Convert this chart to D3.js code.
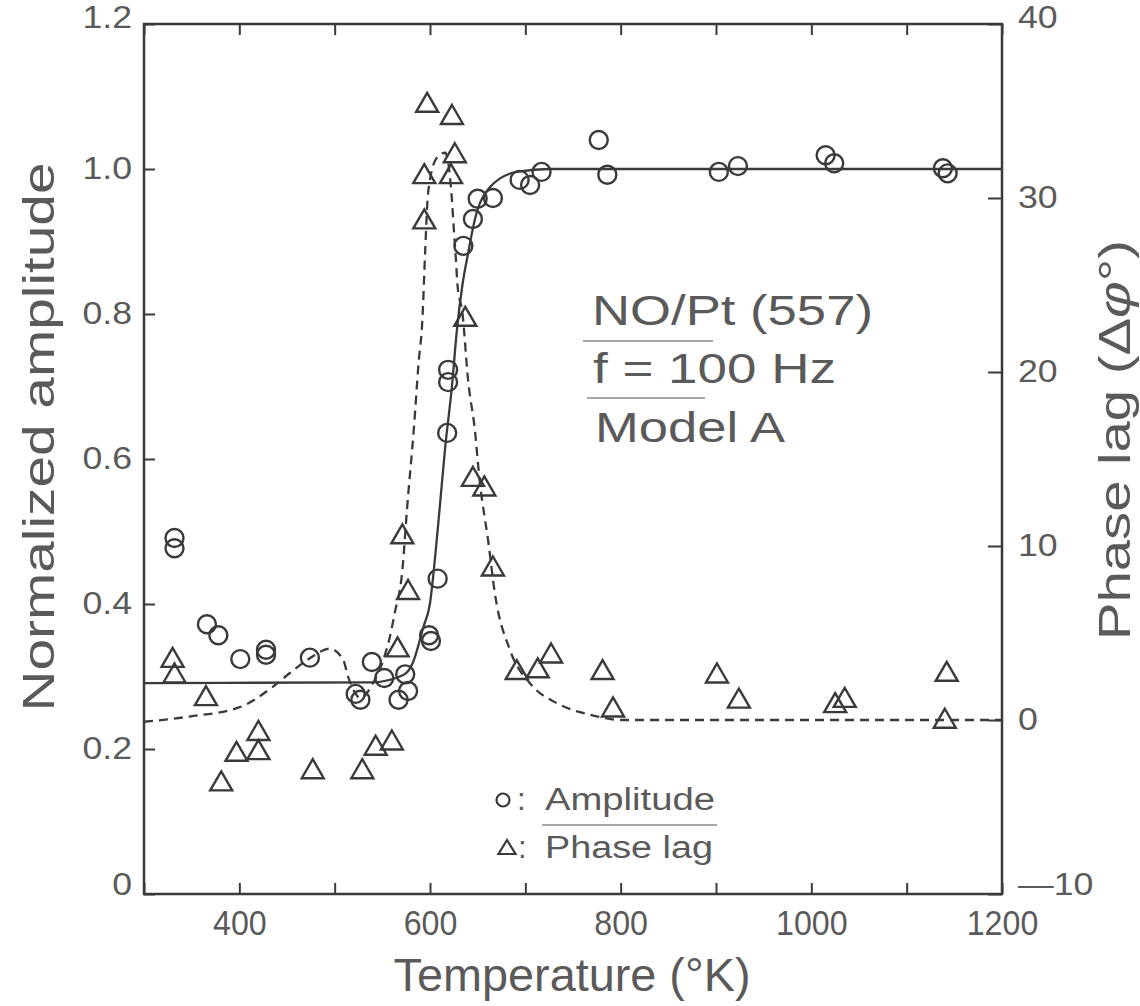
<!DOCTYPE html>
<html>
<head>
<meta charset="utf-8">
<script src="https://cdn.jsdelivr.net/npm/d3@7"></script>
<style>
  body { margin: 0; background: #fff; }
  svg { display: block; font-family: "Liberation Sans", Arial, sans-serif; }
</style>
</head>
<body>
<svg id="chart" width="1140" height="1006"></svg>
<script>
// measured amplitude (circles)
const ampTemp  = [332,332,366,378,401,428,428,474,522,527,539,552,567,574,577,599,601,608,618,619,619,635,645,650,666,694,705,717,777,786,903,923,1015,1024,1138,1143]
const ampValue = [0.491,0.477,0.372,0.357,0.324,0.337,0.330,0.326,0.276,0.268,0.320,0.298,0.268,0.303,0.280,0.357,0.349,0.435,0.636,0.706,0.723,0.894,0.931,0.959,0.960,0.985,0.978,0.996,1.040,0.992,0.996,1.004,1.019,1.008,1.001,0.994]

// measured phase lag (triangles), degrees
const phaseTemp  = [330,332,365,381,397,420,420,477,529,543,560,566,571,577,594,594,597,622,623,626,637,645,657,666,691,713,727,781,792,901,924,1025,1035,1140,1142]
const phaseValue = [3.6,2.7,1.4,-3.5,-1.8,-1.7,-0.6,-2.8,-2.8,-1.45,-1.15,4.2,10.7,7.5,28.8,31.4,35.5,31.4,34.8,32.6,23.2,14.0,13.45,8.85,2.9,3.0,3.85,2.9,0.75,2.7,1.26,1.0,1.3,0.1,2.8]

// model A curves
const ampFitTemp  = [300,540,572,582,593,600,605,610,616,623,628,634,640,647,663,691,726,1200]
const ampFitValue = [0.291,0.292,0.302,0.319,0.368,0.401,0.460,0.530,0.617,0.700,0.775,0.840,0.884,0.930,0.975,0.996,1.0,1.0]

const phaseFitTemp  = [300,348,401,435,453,474,495,509,514,521,527,539,551,558,563,571,576,583,588,592,595,598,607,616,623,625,627,629,634,640,647,652,661,668,684,705,733,768,802,1200]
const phaseFitValue = [-0.1,0.2,0.75,1.9,2.7,3.55,4.1,3.45,2.5,1.6,1.25,2.0,3.45,4.8,6.15,8.6,12.2,16.7,20.5,23.0,27.0,30.3,32.3,32.6,29.9,28.2,26.6,24.9,23.4,19.5,16.7,13.8,10.3,7.3,4.0,2.1,0.97,0.3,0.0,0.0]

// ticks
const xTicks     = [300,400,500,600,700,800,900,1000,1100,1200]
const xLabels    = [400,600,800,1000,1200]
const ampTicks   = [0,0.2,0.4,0.6,0.8,1.0,1.2]
const phaseTicks = [-10,0,10,20,30,40]

const INK = "#3a3a3a", TEXT = "#5a5a5a"
const margin = { top: 24, right: 138, bottom: 112, left: 144 }
const W = 1140, H = 1006
const innerW = W - margin.left - margin.right
const innerH = H - margin.top - margin.bottom

const svg = d3.select("#chart")
svg.append("rect").attr("width", W).attr("height", H).attr("fill", "#fff")

const x  = d3.scaleLinear().domain([300, 1200]).range([margin.left, margin.left + innerW])
const yA = d3.scaleLinear().domain([0, 1.2]).range([margin.top + innerH, margin.top])
const yP = d3.scaleLinear().domain([-10, 40]).range([margin.top + innerH, margin.top])

// widen glyphs, the original lettering is an extended face
function stretch(sel, k) {
  sel.each(function() {
    const w = this.getComputedTextLength()
    d3.select(this).attr("textLength", w * k).attr("lengthAdjust", "spacingAndGlyphs")
  })
}

function styleAxis(g, size) {
  g.select(".domain").remove()
  g.selectAll(".tick line").attr("stroke", INK).attr("stroke-width", 2)
  g.selectAll(".tick text").attr("fill", TEXT).attr("font-size", size)
}

// bottom axis
const gx = svg.append("g")
  .attr("transform", `translate(0,${margin.top + innerH})`)
  .call(d3.axisBottom(x).tickValues(xTicks).tickSizeInner(-11).tickSizeOuter(0).tickPadding(16)
    .tickFormat(d => xLabels.includes(d) ? d : ""))
styleAxis(gx, 35)
stretch(gx.selectAll(".tick text"), 0.92)

// top axis
const gt = svg.append("g")
  .attr("transform", `translate(0,${margin.top})`)
  .call(d3.axisTop(x).tickValues(xTicks).tickSizeInner(-11).tickSizeOuter(0).tickFormat(""))
styleAxis(gt, 10)

// left axis
const gl = svg.append("g")
  .attr("transform", `translate(${margin.left},0)`)
  .call(d3.axisLeft(yA).tickValues(ampTicks).tickSizeInner(-11).tickSizeOuter(0).tickPadding(12)
    .tickFormat(d => d === 0 ? "0" : d3.format(".1f")(d)))
styleAxis(gl, 31)
stretch(gl.selectAll(".tick text"), 1.15)

// right axis
const gr = svg.append("g")
  .attr("transform", `translate(${margin.left + innerW},0)`)
  .call(d3.axisRight(yP).tickValues(phaseTicks).tickSizeInner(-14).tickSizeOuter(0).tickPadding(16)
    .tickFormat(d => d < 0 ? "\u2014" + Math.abs(d) : d))
styleAxis(gr, 31)
stretch(gr.selectAll(".tick text"), 1.15)

// end labels sit a little inside the frame in the original
gl.selectAll(".tick text").filter(d => d === 0).attr("y", -9)
gl.selectAll(".tick text").filter(d => d === 1.2).attr("y", -6)
gr.selectAll(".tick text").filter(d => d === -10).attr("y", -9)
gr.selectAll(".tick text").filter(d => d === 40).attr("y", -6)

// frame
svg.append("rect")
  .attr("x", margin.left).attr("y", margin.top)
  .attr("width", innerW).attr("height", innerH)
  .attr("fill", "none").attr("stroke", INK).attr("stroke-width", 2.5)

// axis titles
svg.append("text")
  .attr("transform", `translate(${margin.left + innerW / 2 - 1},991)`)
  .attr("text-anchor", "middle").attr("font-size", 46).attr("fill", TEXT)
  .attr("textLength", 357).attr("lengthAdjust", "spacingAndGlyphs")
  .text("Temperature (°K)")

svg.append("text")
  .attr("transform", "translate(54,437) rotate(-90)")
  .attr("text-anchor", "middle").attr("font-size", 45).attr("fill", TEXT)
  .attr("textLength", 549).attr("lengthAdjust", "spacingAndGlyphs")
  .text("Normalized amplitude")

const pl = svg.append("text")
  .attr("transform", "translate(1130,440) rotate(-90)")
  .attr("text-anchor", "middle").attr("font-size", 45).attr("fill", TEXT)
  .attr("textLength", 400).attr("lengthAdjust", "spacingAndGlyphs")
pl.append("tspan").text("Phase lag (\u0394")
pl.append("tspan").attr("font-style", "italic").text("\u03C6")
pl.append("tspan").text("\u00B0)")

// plot contents
const clip = svg.append("clipPath").attr("id", "plot-clip")
clip.append("rect").attr("x", margin.left).attr("y", margin.top).attr("width", innerW).attr("height", innerH)
const plot = svg.append("g").attr("clip-path", "url(#plot-clip)")

const ampFit = d3.zip(ampFitTemp, ampFitValue)
const phaseFit = d3.zip(phaseFitTemp, phaseFitValue)

plot.append("path")
  .datum(ampFit)
  .attr("d", d3.line().x(d => x(d[0])).y(d => yA(d[1])).curve(d3.curveMonotoneX))
  .attr("fill", "none").attr("stroke", INK).attr("stroke-width", 2.3)

plot.append("path")
  .datum(phaseFit)
  .attr("d", d3.line().x(d => x(d[0])).y(d => yP(d[1])).curve(d3.curveMonotoneX))
  .attr("fill", "none").attr("stroke", INK).attr("stroke-width", 2.3)
  .attr("stroke-dasharray", "9,6")

const tri = (w, h) => `M0,${-h / 2}L${w / 2},${h / 2}L${-w / 2},${h / 2}Z`

plot.selectAll(".amp-pt")
  .data(d3.zip(ampTemp, ampValue))
  .join("circle")
  .attr("class", "amp-pt")
  .attr("cx", d => x(d[0])).attr("cy", d => yA(d[1]))
  .attr("r", 9)
  .attr("fill", "none").attr("stroke", INK).attr("stroke-width", 2.4)

plot.selectAll(".phase-pt")
  .data(d3.zip(phaseTemp, phaseValue))
  .join("path")
  .attr("class", "phase-pt")
  .attr("transform", d => `translate(${x(d[0])},${yP(d[1])})`)
  .attr("d", tri(22, 19))
  .attr("fill", "none").attr("stroke", INK).attr("stroke-width", 2.4).attr("stroke-linejoin", "miter")

// annotation block
const note = svg.append("g").attr("fill", TEXT).attr("font-size", 43)
note.append("text").attr("x", 592).attr("y", 325).attr("textLength", 281).attr("lengthAdjust", "spacingAndGlyphs").text("NO/Pt (557)")
note.append("text").attr("x", 593).attr("y", 383).attr("textLength", 243).attr("lengthAdjust", "spacingAndGlyphs").text("f = 100 Hz")
note.append("text").attr("x", 595).attr("y", 442).attr("textLength", 190).attr("lengthAdjust", "spacingAndGlyphs").text("Model A")
note.append("line").attr("x1", 583).attr("x2", 713).attr("y1", 341).attr("y2", 341).attr("stroke", "#8a8a8a").attr("stroke-width", 1.4)
note.append("line").attr("x1", 587).attr("x2", 705).attr("y1", 398).attr("y2", 398).attr("stroke", "#8a8a8a").attr("stroke-width", 1.4)

// legend
const lg = svg.append("g").attr("fill", TEXT).attr("font-size", 31)
lg.append("circle").attr("cx", 503).attr("cy", 800).attr("r", 6.5)
  .attr("fill", "none").attr("stroke", INK).attr("stroke-width", 2.2)
lg.append("text").attr("x", 517).attr("y", 810).text(":")
lg.append("text").attr("x", 545).attr("y", 810).attr("textLength", 170).attr("lengthAdjust", "spacingAndGlyphs").text("Amplitude")
lg.append("path").attr("transform", "translate(507,847)").attr("d", tri(17, 14))
  .attr("fill", "none").attr("stroke", INK).attr("stroke-width", 2.2)
lg.append("text").attr("x", 518).attr("y", 858).text(":")
lg.append("text").attr("x", 545).attr("y", 858).attr("textLength", 168).attr("lengthAdjust", "spacingAndGlyphs").text("Phase lag")
lg.append("line").attr("x1", 542).attr("x2", 717).attr("y1", 825).attr("y2", 825).attr("stroke", "#8a8a8a").attr("stroke-width", 1.4)
</script>
</body>
</html>
